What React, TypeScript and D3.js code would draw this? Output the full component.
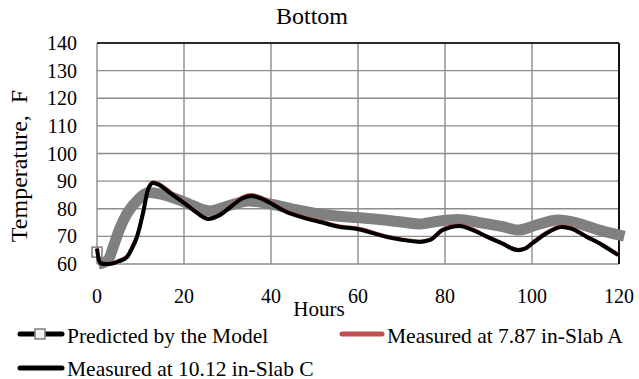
import React from "react";
import * as d3 from "d3";

// Hourly temperatures at the slab bottom (°F)
const predHours = [1.5, 2.6, 3.75, 5.1, 6.9, 9.4, 12, 15, 20, 26, 30, 35, 40, 45, 51, 55, 60, 70, 74, 78, 83, 88, 93, 97, 101, 106, 110, 115, 120];
const predTemps = [60.5, 61.5, 66.3, 72.3, 78.3, 83.2, 85.9, 85.2, 82.5, 79.2, 81, 82.8, 81.7, 79.9, 78.1, 77.4, 76.8, 75.2, 74.5, 75.4, 76.1, 75, 73.6, 72.3, 74.1, 75.9, 75, 72.5, 70.5];
const predStart = { hour: 0, temp: 64.3 };

const measHours = [0, 0.5, 1, 2, 3.5, 5, 6.9, 8, 9.2, 10.6, 11.7, 12.9, 14, 17, 20.6, 23, 25.6, 28, 31.3, 33.5, 35.6, 38, 43.6, 47, 51.3, 55.9, 60, 66.7, 70, 74.3, 76.6, 79.5, 83.4, 86, 89.7, 93, 96.8, 98.5, 100.2, 103, 106.9, 109, 112.6, 116, 119.8];
const slabA = [65.8, 61.3, 60.5, 60.3, 60.5, 61.3, 63, 66.2, 70.6, 79.3, 87.4, 89.8, 89.3, 86, 81.8, 78.8, 76.6, 77.9, 81.9, 84.4, 85.2, 84, 79.2, 77.4, 75.6, 73.8, 73, 70.1, 69.1, 68.3, 69, 72.7, 74.2, 72.9, 70.1, 67.8, 65.3, 65.9, 68, 71.2, 73.8, 73.2, 70.1, 67.3, 63.6];
const slabC = [65.5, 61, 60.2, 60, 60.2, 61, 62.5, 65.5, 69.8, 78.5, 86.8, 89.3, 88.8, 85.5, 81.4, 78.5, 76.3, 77.5, 81.4, 83.8, 84.6, 83.5, 78.8, 77, 75.2, 73.4, 72.6, 69.8, 68.8, 68, 68.7, 72.3, 73.8, 72.5, 69.8, 67.5, 65, 65.6, 67.6, 70.8, 73.4, 72.8, 69.8, 67, 63.2];

const xTicks = [0, 20, 40, 60, 80, 100, 120];
const yTicks = [60, 70, 80, 90, 100, 110, 120, 130, 140];

const legendLabels = ["Predicted by the Model", "Measured at 7.87 in-Slab A", "Measured at 10.12 in-Slab C"];

const W = 639;
const H = 379;
const plot = { left: 97, right: 619, top: 43, bottom: 264 };
const serif = { fontFamily: "'Liberation Serif', 'DejaVu Serif', serif" };

export default function App() {
  const x = d3.scaleLinear().domain([0, 120]).range([plot.left, plot.right]);
  const y = d3.scaleLinear().domain([60, 140]).range([plot.bottom, plot.top]);

  const line = d3
    .line<[number, number]>()
    .x((d) => x(d[0]))
    .y((d) => y(d[1]))
    .curve(d3.curveMonotoneX);

  const predPath = line(predHours.map((h, i) => [h, predTemps[i]]));
  const aPath = line(measHours.map((h, i) => [h, slabA[i]]));
  const cPath = line(measHours.map((h, i) => [h, slabC[i]]));

  const grid = "#8c8c8c";

  return (
    <svg
      width={W}
      height={H}
      style={{ position: "absolute", left: 0, top: 0, background: "#fff", ...serif }}
    >
      <rect x={0} y={0} width={W} height={H} fill="#fff" />
      <text x={312} y={24} fontSize={24} textAnchor="middle" fill="#000" style={serif}>
        Bottom
      </text>

      {/* grid */}
      {yTicks.map((t) => (
        <line key={"gy" + t} x1={plot.left} x2={plot.right} y1={y(t)} y2={y(t)} stroke={grid} strokeWidth={1.4} />
      ))}
      {xTicks.map((t) => (
        <line key={"gx" + t} x1={x(t)} x2={x(t)} y1={plot.top} y2={plot.bottom} stroke={grid} strokeWidth={1.4} />
      ))}
      <line x1={plot.left} x2={plot.right} y1={plot.top} y2={plot.top} stroke="#000" strokeWidth={1.6} />
      <line x1={plot.right} x2={plot.right} y1={plot.top} y2={plot.bottom} stroke="#000" strokeWidth={1.8} />

      {/* y tick labels */}
      {yTicks.map((t) => (
        <text key={"ty" + t} x={77} y={y(t)} dy="0.35em" fontSize={20} textAnchor="end" fill="#000" style={serif}>
          {t}
        </text>
      ))}
      {/* x tick labels */}
      {xTicks.map((t) => (
        <text key={"tx" + t} x={x(t)} y={303} fontSize={20} textAnchor="middle" fill="#000" style={serif}>
          {t}
        </text>
      ))}
      <text x={319} y={316} fontSize={21} textAnchor="middle" fill="#000" style={serif}>
        Hours
      </text>
      <text
        transform={`translate(27,166) rotate(-90)`}
        fontSize={24}
        textAnchor="middle"
        fill="#000"
        style={{ ...serif, whiteSpace: "pre" }}
      >
        {"Temperature,  F"}
      </text>

      {/* series */}
      <path d={predPath ?? ""} fill="none" stroke="#808080" strokeWidth={11} strokeLinejoin="round" strokeLinecap="square" />
      <rect
        x={x(predStart.hour) - 5}
        y={y(predStart.temp) - 5}
        width={10}
        height={10}
        fill="#fff"
        stroke="#808080"
        strokeWidth={1.5}
      />
      <path d={aPath ?? ""} fill="none" stroke="#C0504D" strokeWidth={3} strokeLinejoin="round" />
      <path d={cPath ?? ""} fill="none" stroke="#000" strokeWidth={4} strokeLinejoin="round" />

      {/* legend */}
      <line x1={20} x2={62} y1={334} y2={334} stroke="#000" strokeWidth={5} strokeLinecap="round" />
      <rect x={35} y={329} width={10} height={10} fill="#f2f2f2" stroke="#808080" strokeWidth={1.5} />
      <text x={67} y={343} fontSize={21.5} fill="#000" style={serif}>
        {legendLabels[0]}
      </text>
      <line x1={342} x2={382} y1={334} y2={334} stroke="#C0504D" strokeWidth={5} strokeLinecap="round" />
      <text x={387} y={343} fontSize={21.5} fill="#000" style={serif}>
        {legendLabels[1]}
      </text>
      <line x1={20} x2={62} y1={368} y2={368} stroke="#000" strokeWidth={5} strokeLinecap="round" />
      <text x={67} y={376} fontSize={21.5} fill="#000" style={serif}>
        {legendLabels[2]}
      </text>
    </svg>
  );
}
